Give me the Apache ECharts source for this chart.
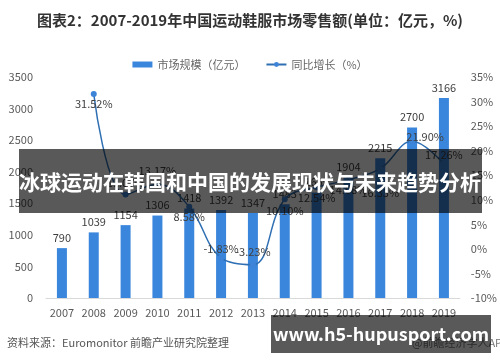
<!DOCTYPE html>
<html>
<head>
<meta charset="utf-8">
<script src="https://cdn.jsdelivr.net/npm/echarts@6/dist/echarts.min.js"></script>
<style>
html,body{margin:0;padding:0;background:#fff;}
#c{width:500px;height:362px;}
</style>
</head>
<body>
<div id="c"></div>
<script>
var years = ['2007','2008','2009','2010','2011','2012','2013','2014','2015','2016','2017','2018','2019'];
var marketSize = [790,1039,1154,1306,1418,1392,1347,1483,1669,1904,2215,2700,3166];
var growthRate = [null,31.52,11.07,13.17,8.58,-1.83,-3.23,10.10,12.54,14.08,16.33,21.90,17.26];
var leftTicks = [0,500,1000,1500,2000,2500,3000,3500];
var rightTicks = [-10,-5,0,5,10,15,20,25,30,35];

var FONT = '"Noto Sans CJK SC","Noto Sans",sans-serif';
// label placement per point (style only)
var lblPos = [null,
  {position:'bottom',distance:1},
  {position:'top',distance:3},
  {position:'top',distance:5},
  {position:'bottom',distance:2},
  {position:'top',distance:1},
  {position:'top',distance:4},
  {position:'bottom',distance:3},
  {position:'bottom',distance:2},
  {position:'bottom',distance:2},
  {position:'bottom',distance:16},
  {position:'top',distance:-4,offset:[13,0]},
  {position:'top',distance:1}
];
var lineData = growthRate.map(function(v,i){
  if (v === null) return null;
  var p = lblPos[i];
  var lb = {position:p.position, distance:p.distance};
  if (p.offset) lb.offset = p.offset;
  return {value:v, label:lb};
});

var chart = echarts.init(document.getElementById('c'));
chart.setOption({
  animation:false,
  backgroundColor:'#fff',
  textStyle:{fontFamily:FONT},
  title:{
    text:'图表2：2007-2019年中国运动鞋服市场零售额(单位：亿元，%)',
    left:'center', top:8,
    textStyle:{fontSize:15,fontWeight:'bold',color:'#333',fontFamily:FONT}
  },
  legend:{
    top:54, left:'center', itemGap:20, itemWidth:20, itemHeight:6,
    textStyle:{fontSize:11,color:'#666',fontFamily:FONT},
    data:[
      {name:'市场规模（亿元）', icon:'rect'},
      {name:'同比增长（%）'}
    ]
  },
  grid:{left:46,right:38,top:77,bottom:64},
  xAxis:{
    type:'category', data:years,
    axisLine:{lineStyle:{color:'#d9d9d9'}},
    axisTick:{show:false},
    axisLabel:{fontSize:11,color:'#595959',margin:9}
  },
  yAxis:[
    {type:'value',min:leftTicks[0],max:leftTicks[leftTicks.length-1],interval:500,
     splitLine:{show:false},axisLine:{show:false},axisTick:{show:false},
     axisLabel:{fontSize:11,color:'#595959',margin:13,formatter:function(v){return String(v);}}},
    {type:'value',min:rightTicks[0],max:rightTicks[rightTicks.length-1],interval:5,
     splitLine:{show:false},axisLine:{show:false},axisTick:{show:false},
     axisLabel:{fontSize:11,color:'#595959',margin:11,formatter:function(v){return v+'%';}}}
  ],
  series:[
    {name:'市场规模（亿元）',type:'bar',data:marketSize,barWidth:10,
     itemStyle:{color:'#3a86dc'},
     label:{show:true,position:'top',distance:5,fontSize:11,color:'#404040'}},
    {name:'同比增长（%）',type:'line',yAxisIndex:1,data:lineData,smooth:0.4,
     symbol:'circle',symbolSize:6,
     lineStyle:{color:'#2f6fb3',width:1.5},
     itemStyle:{color:'#3d84d8'},
     label:{show:true,fontSize:11,color:'#404040',formatter:function(p){return p.value.toFixed(2)+'%';}}}
  ],
  graphic:[
    {type:'rect',shape:{x:19,y:149,width:463,height:64},style:{fill:'rgba(0,0,0,0.65)'},z:100},
    {type:'text',x:250,y:182,style:{text:'冰球运动在韩国和中国的发展现状与未来趋势分析',fill:'#fff',font:'bold 21px '+FONT,textAlign:'center',textVerticalAlign:'middle'},z:101},
    {type:'text',x:7,y:343,style:{text:'资料来源：Euromonitor 前瞻产业研究院整理',fill:'#555',font:'11px '+FONT,textVerticalAlign:'middle'},z:100},
    {type:'text',x:412,y:343,style:{text:'@前瞻经济学人APP',fill:'#777',font:'11px '+FONT,textVerticalAlign:'middle'},z:100},
    {type:'rect',shape:{x:271,y:315,width:220,height:38},style:{fill:'rgba(0,0,0,0.65)'},z:102},
    {type:'text',x:381,y:334,style:{text:'www.h5-hupusport.com',fill:'#fff',font:'bold 18px '+FONT,textAlign:'center',textVerticalAlign:'middle'},z:103}
  ]
});
</script>
</body>
</html>
